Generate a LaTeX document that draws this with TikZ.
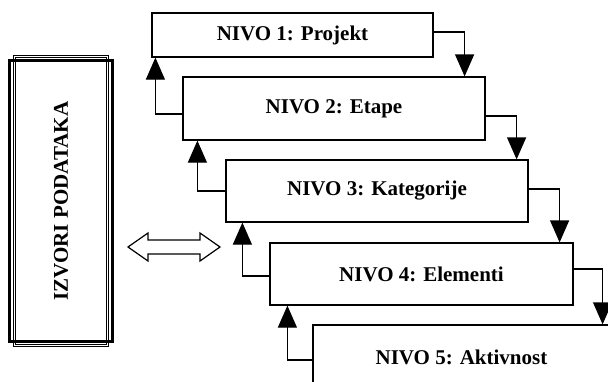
\documentclass[tikz,border=0pt]{standalone}
\usepackage{fontspec}
\usepackage{graphicx}
\setmainfont{Liberation Serif}
\usetikzlibrary{arrows.meta}

\tikzset{
  lvl/.style={draw, line width=1.2pt, fill=white, minimum width=302, minimum height=62,
    font=\bfseries\fontsize{21}{24}\selectfont},
  tri/.style={line width=1.2pt, -{Triangle[width=19pt,length=22pt]}},
}

\begin{document}
\begin{tikzpicture}[x=1pt,y=-1pt]
            \useasboundingbox (0,0) rectangle (608,381);
            \clip (0,0) rectangle (608,381);

            % izvori podataka
            \node[draw, double, double distance=1.4pt, line width=0.9pt,
                  minimum width=93.5, minimum height=289.5, inner sep=0pt,
                  font=\bfseries\fontsize{21}{24}\selectfont] (src) at (61,201)
                  {\rotatebox{90}{IZVORI PODATAKA}};
            \draw[line width=2.5pt] ([shift={(-4.5,4.5)}]src.north west) rectangle ([shift={(4.5,-4.5)}]src.south east);

            \draw[line width=1.2pt] (128,247) -- (148,233) -- (148,240) -- (200,240) -- (200,233) -- (220,247)
                -- (200,261) -- (200,254) -- (148,254) -- (148,261) -- cycle;

            % nivoi
            \node[lvl, minimum width=281, minimum height=44] (n1) at (292.5,35) {NIVO 1: Projekt};
            \node[lvl, minimum height=63] (n2) at (334,108.5) {NIVO 2: Etape};
            \node[lvl] (n3) at (377,191) {NIVO 3: Kategorije};
            \node[lvl, minimum width=303] (n4) at (421.5,274) {NIVO 4: Elementi};
            \node[lvl, minimum width=297, minimum height=64] (n5) at (461.5,357) {NIVO 5: Aktivnost};

            % dolje
            \draw[tri] ([yshift=3pt]n1.east) -| ([xshift=-21pt]n2.north east);
            \draw[tri] ([yshift=-7.5pt]n2.east) -| ([xshift=-12pt]n3.north east);
            \draw[tri] ([yshift=2pt]n3.east) -| ([xshift=-14pt]n4.north east);
            \draw[tri] ([yshift=5pt]n4.east) -| ([xshift=-8pt]n5.north east);

            % gore
            \draw[tri] ([yshift=-5.5pt]n2.west) -| ([xshift=4pt]n1.south west);
            \draw[tri] (n3.west) -| ([xshift=15pt]n2.south west);
            \draw[tri] ([yshift=-2pt]n4.west) -| ([xshift=17pt]n3.south west);
            \draw[tri] ([yshift=-3pt]n5.west) -| ([xshift=18pt]n4.south west);
\end{tikzpicture}
\end{document}
